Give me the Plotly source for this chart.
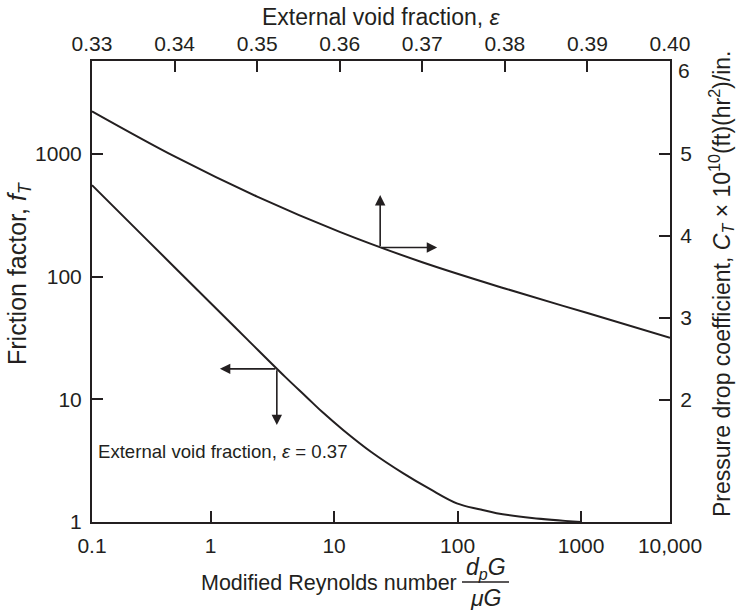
import math
import plotly.graph_objects as go

# ---------------- data ----------------
# Lower curve: friction factor vs modified Reynolds number (bottom/left axes)
reynolds = [0.1096, 0.3, 1, 2, 4, 6, 8, 11.9, 20, 36.4, 60, 98.6, 150, 207, 400, 1000]
friction = [556, 203, 61, 30.5, 15.3, 10.4, 7.9, 5.6, 3.72, 2.49, 1.85, 1.42, 1.27, 1.18, 1.08, 1.0]

# Upper curve: pressure drop coefficient vs external void fraction (top/right axes)
void_fraction = [0.33, 0.34, 0.35, 0.36, 0.37, 0.38, 0.39, 0.40]
pressure_coef = [5.52, 4.97, 4.48, 4.05, 3.68, 3.36, 3.06, 2.76]

# Tick labels
re_tick_text = ["0.1", "1", "10", "100", "1000", "10,000"]
f_tick_vals = [1, 10, 100, 1000]
f_tick_text = ["1", "10", "100", "1000"]
eps_tick_vals = [0.33, 0.34, 0.35, 0.36, 0.37, 0.38, 0.39, 0.40]
eps_tick_text = ["0.33", "0.34", "0.35", "0.36", "0.37", "0.38", "0.39", "0.40"]
ct_tick_vals = [2, 3, 4, 5]
ct_tick_text = ["2", "3", "4", "5"]

# ---------------- layout constants ----------------
W, H = 738, 610
L, R, T, B = 92, 670, 61, 522
X_RANGE = [-0.96, 3.72]        # log10 of Reynolds
Y_RANGE = [0.0, 3.757]         # log10 of friction factor
X2_RANGE = [0.33, 0.40]
Y2_RANGE = [0.512, 6.134]

INK = "#231f20"
FONT = "Liberation Sans"
TICKFS = 21
TITLEFS = 23

re_tick_vals = [10 ** X_RANGE[0], 1, 10, 100, 1000, 10 ** X_RANGE[1]]


def px(xp):
    return (xp - L) / (R - L)


def py(yp):
    return (B - yp) / (B - T)


fig = go.Figure()

fig.add_trace(go.Scatter(
    x=reynolds, y=friction, mode="lines",
    line=dict(color=INK, width=2, shape="spline", smoothing=1.0),
    xaxis="x", yaxis="y", showlegend=False, hoverinfo="skip"))

fig.add_trace(go.Scatter(
    x=void_fraction, y=pressure_coef, mode="lines",
    line=dict(color=INK, width=2, shape="spline", smoothing=1.0),
    xaxis="x2", yaxis="y2", showlegend=False, hoverinfo="skip"))

axis_common = dict(
    showline=True, linecolor=INK, linewidth=2, mirror=False,
    ticks="inside", ticklen=11, tickwidth=1.5, tickcolor=INK,
    showgrid=False, zeroline=False,
    tickfont=dict(family=FONT, size=TICKFS, color=INK),
)

fig.update_layout(
    width=W, height=H,
    margin=dict(l=L, r=W - R, t=T, b=H - B),
    paper_bgcolor="white", plot_bgcolor="white",
    font=dict(family=FONT, color=INK),
    xaxis=dict(type="log", range=X_RANGE, tickvals=re_tick_vals,
               ticktext=re_tick_text, ticklabelstandoff=4, **axis_common),
    yaxis=dict(type="log", range=Y_RANGE, tickvals=f_tick_vals,
               ticktext=f_tick_text, ticklabelstandoff=4, **axis_common),
    xaxis2=dict(range=X2_RANGE, overlaying="x", side="top", anchor="y",
                tickvals=eps_tick_vals, ticktext=eps_tick_text,
                **axis_common),
    yaxis2=dict(range=Y2_RANGE, overlaying="y", side="right", anchor="x",
                tickvals=ct_tick_vals, ticktext=ct_tick_text,
                ticklabelstandoff=4, **axis_common),
)


def label(text, xp, yp, size=TITLEFS, angle=0, xanchor="center"):
    return dict(text=text, x=px(xp), y=py(yp), xref="paper", yref="paper",
                showarrow=False, textangle=angle, xanchor=xanchor, yanchor="middle",
                font=dict(family=FONT, size=size, color=INK))


ann = []
# Titles
ann.append(label("External void fraction, <i>ε</i>", 381, 17))
ann.append(label("Friction factor, <i>f</i><sub><i>T</i></sub>", 19, 274, size=25, angle=-90))
ann.append(label("Pressure drop coefficient, <i>C</i><sub><i>T</i></sub> × 10<sup>10</sup>(ft)(hr<sup>2</sup>)/in.",
                 721, 284, angle=-90))
ann.append(label("Modified Reynolds number", 329, 583, size=21.5))
ann.append(label("<i>d</i><sub><i>p</i></sub><i>G</i>", 486, 568))
ann.append(label("<i>μG</i>", 486, 598))
# "6" label on the right axis (top)
ann.append(label("6", 684, 71, size=TICKFS))
# in-plot label
ann.append(label("External void fraction, <i>ε</i> = 0.37", 96, 451, size=18.6, xanchor="left"))

# Arrows for upper curve (top/right axes)
c_eps, c_ct = 0.3649, 3.86
arrow_style = dict(showarrow=True, arrowhead=2, arrowsize=1.3, arrowwidth=1.6,
                   arrowcolor=INK, text="", standoff=0, startstandoff=0)
ann.append(dict(x=c_eps, y=4.50, ax=c_eps, ay=c_ct, xref="x2", yref="y2",
                axref="x2", ayref="y2", **arrow_style))
ann.append(dict(x=0.3718, y=c_ct, ax=c_eps, ay=c_ct, xref="x2", yref="y2",
                axref="x2", ayref="y2", **arrow_style))
# Arrows for lower curve (bottom/left axes) - log coordinates
l_re, l_f = math.log10(3.44), 1.248
ann.append(dict(x=math.log10(1.19), y=l_f, ax=l_re, ay=l_f, xref="x", yref="y",
                axref="x", ayref="y", **arrow_style))
ann.append(dict(x=l_re, y=math.log10(6.17), ax=l_re, ay=l_f, xref="x", yref="y",
                axref="x", ayref="y", **arrow_style))

fig.update_layout(annotations=ann)

# fraction bar for the Reynolds-number label
fig.add_shape(type="line", xref="paper", yref="paper",
              x0=px(462), x1=px(509), y0=py(582), y1=py(582),
              line=dict(color=INK, width=1.5))

fig.write_html("out.html")
